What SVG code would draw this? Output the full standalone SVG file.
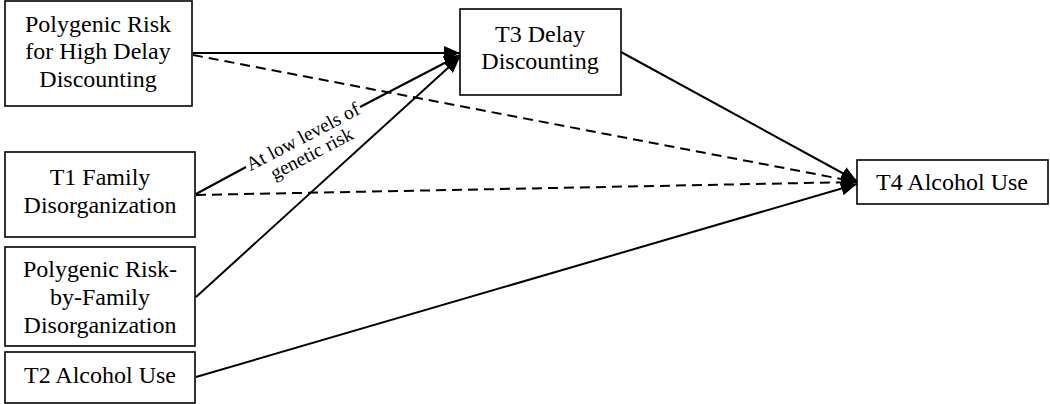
<svg xmlns="http://www.w3.org/2000/svg" width="1050" height="404" viewBox="0 0 1050 404">
<style>
.box{fill:#fff;stroke:#000;stroke-width:1.6}
.t{font-family:"Liberation Serif","Times New Roman",serif;font-size:24px;text-anchor:middle;fill:#000}
.lbl{font-family:"Liberation Serif","Times New Roman",serif;font-size:19.5px;text-anchor:middle;fill:#000}
.c{fill:none;stroke:#000;stroke-width:2}
.d{stroke-dasharray:10 6}
</style>
<defs>
<marker id="ah" viewBox="0 0 16 14" refX="16" refY="7" markerWidth="16" markerHeight="14" markerUnits="userSpaceOnUse" orient="auto">
<path d="M0,0 L16,7 L0,14 z" fill="#000"/>
</marker>
</defs>
<g id="connectors">
<line class="c" x1="193" y1="53" x2="460" y2="53" marker-end="url(#ah)"/>
<line class="c d" x1="193" y1="55" x2="857" y2="182" marker-end="url(#ah)"/>
<line class="c" x1="196" y1="194" x2="246" y2="167"/>
<line class="c" x1="360" y1="107" x2="460" y2="55" marker-end="url(#ah)"/>
<line class="c d" x1="196" y1="195" x2="857" y2="182" marker-end="url(#ah)"/>
<line class="c" x1="196" y1="297" x2="460" y2="57" marker-end="url(#ah)"/>
<line class="c" x1="621" y1="52" x2="857" y2="181" marker-end="url(#ah)"/>
<line class="c" x1="196" y1="377" x2="857" y2="184" marker-end="url(#ah)"/>
<g transform="translate(303,137) rotate(-27.6)">
<text class="lbl" x="0" y="6">At low levels of</text>
<text class="lbl" x="0" y="25">genetic risk</text>
</g>
</g>
<g id="n_prs">
<rect class="box" x="5" y="1" width="187" height="105"/>
<text class="t" x="98" y="32">Polygenic Risk</text>
<text class="t" x="98" y="59">for High Delay</text>
<text class="t" x="98" y="87">Discounting</text>
</g>
<g id="n_t1">
<rect class="box" x="5" y="152" width="190" height="85"/>
<text class="t" x="100" y="185">T1 Family</text>
<text class="t" x="100" y="213">Disorganization</text>
</g>
<g id="n_int">
<rect class="box" x="5" y="247" width="190" height="99"/>
<text class="t" x="100" y="277">Polygenic Risk-</text>
<text class="t" x="100" y="305">by-Family</text>
<text class="t" x="100" y="333">Disorganization</text>
</g>
<g id="n_t2">
<rect class="box" x="5" y="352" width="190" height="51"/>
<text class="t" x="100" y="383">T2 Alcohol Use</text>
</g>
<g id="n_t3">
<rect class="box" x="460" y="9" width="161" height="86"/>
<text class="t" x="540" y="42">T3 Delay</text>
<text class="t" x="540" y="69">Discounting</text>
</g>
<g id="n_t4">
<rect class="box" x="857" y="160" width="191" height="44"/>
<text class="t" x="952" y="190">T4 Alcohol Use</text>
</g>
</svg>
